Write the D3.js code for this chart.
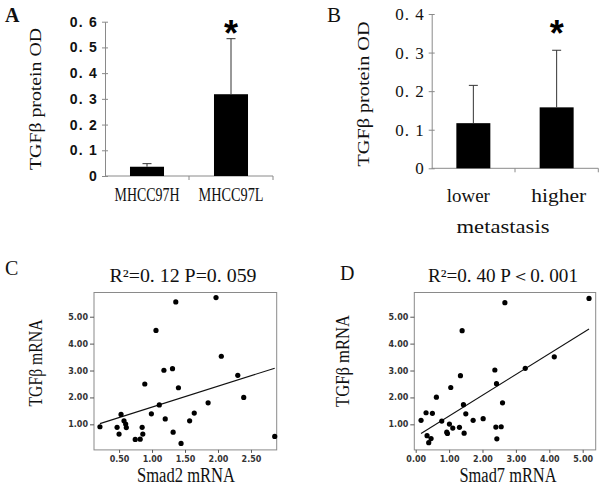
<!DOCTYPE html>
<html><head><meta charset="utf-8">
<script src="https://cdn.jsdelivr.net/npm/d3@7"></script>
<style>body{margin:0;background:#fff}svg{display:block}</style>
</head><body><svg id="c" width="600" height="493"></svg>
<script>
// ---------- data ----------
const catsA = ["MHCC97H", "MHCC97L"];
const meanA = [0.036, 0.318];
const errA = [0.012, 0.216];
const sigA = [false, true];
const ticksA = [0, 0.1, 0.2, 0.3, 0.4, 0.5, 0.6];
const tickLabelsA = ["0", "0. 1", "0. 2", "0. 3", "0. 4", "0. 5", "0. 6"];

const catsB = ["lower", "higher"];
const meanB = [0.117, 0.158];
const errB = [0.098, 0.148];
const sigB = [false, true];
const ticksB = [0, 0.1, 0.2, 0.3, 0.4];
const tickLabelsB = ["0", "0. 1", "0. 2", "0. 3", "0. 4"];

const smad2 = [0.21,0.47,0.50,0.53,0.575,0.60,0.61,0.745,0.82,0.85,0.86,0.89,0.99,1.06,1.11,1.18,1.20,1.31,1.32,1.36,1.40,1.44,1.57,1.64,1.85,1.97,2.05,2.30,2.39,2.86];
const tgfC  = [0.91,0.89,0.64,1.37,1.13,1.01,0.88,0.44,0.45,0.89,0.64,2.50,1.39,4.49,1.72,3.01,1.20,3.07,0.71,5.55,2.36,0.29,1.13,1.42,1.80,5.71,3.53,2.82,2.00,0.55];
const fitC = [0.864, 0.777]; // intercept, slope

const smad7 = [0.16,0.31,0.50,0.34,0.46,0.39,0.62,0.78,0.93,0.95,1.01,1.05,1.11,1.31,1.34,1.39,1.43,1.45,1.50,1.72,2.02,2.37,2.42,2.40,2.43,2.56,2.60,2.67,3.28,4.15,5.19];
const tgfD  = [1.15,1.43,1.41,0.58,0.47,0.32,2.01,1.12,0.71,0.66,1.01,2.37,0.86,0.89,2.81,4.48,1.73,0.67,1.39,1.15,1.21,3.02,2.51,0.90,0.46,0.91,1.80,5.52,3.08,3.51,5.68];
const fitD = [0.536, 0.772];

const yTicksS = [1, 2, 3, 4, 5];
const yTickLabelsS = ["1.00", "2.00", "3.00", "4.00", "5.00"];
const xTicksC = [0.5, 1, 1.5, 2, 2.5];
const xTickLabelsC = ["0.50", "1.00", "1.50", "2.00", "2.50"];
const xTicksD = [0, 1, 2, 3, 4, 5];
const xTickLabelsD = ["0.00", "1.00", "2.00", "3.00", "4.00", "5.00"];

const titleC = "R²=0. 12 P=0. 059";
const titleD = "R²=0. 40 P＜0. 001";

// ---------- drawing ----------
const svg = d3.select("#c");
const SERIF = "'Liberation Serif','DejaVu Serif',serif";
const SANS = "'Liberation Sans',Arial,sans-serif";
const AX = "#8a8a8a";

function txt(x, y, s, size, opts = {}) {
  const t = svg.append("text").attr("x", x).attr("y", y).text(s)
    .attr("font-family", opts.family || SERIF).attr("font-size", size)
    .attr("fill", opts.fill || "#111")
    .attr("text-anchor", opts.anchor || "middle");
  if (opts.weight) t.attr("font-weight", opts.weight);
  if (opts.len) t.attr("textLength", opts.len).attr("lengthAdjust", "spacingAndGlyphs");
  if (opts.rot) t.attr("transform", `rotate(-90,${x},${y})`).attr("dy", "0.35em");
  return t;
}

function barPanel(cfg) {
  const { cats, mean, err, sig, ticks, labels, x0, x1, yTop, yBot, pad } = cfg;
  const y = d3.scaleLinear().domain([0, ticks[ticks.length - 1]]).range([yBot, yTop]);
  const x = d3.scaleBand().domain(cats).range([x0, x1]).paddingInner(pad).paddingOuter(pad / 2);
  const g = svg.append("g");
  const ya = g.append("g").attr("transform", `translate(${x0},0)`)
    .call(d3.axisLeft(y).tickValues(ticks).tickFormat((d, i) => labels[i]).tickSizeInner(4).tickSizeOuter(0).tickPadding(cfg.tickPad));
  ya.select(".domain").attr("stroke", AX);
  ya.selectAll(".tick line").attr("stroke", AX).attr("x2", -3).attr("x1", 3);
  ya.selectAll(".tick text").attr("font-family", cfg.tickFamily).attr("font-size", cfg.tickSize)
    .attr("fill", "#111").attr("font-weight", cfg.tickWeight || "normal")
    .attr("letter-spacing", cfg.tickLS);
  g.append("line").attr("x1", x0).attr("x2", x1).attr("y1", yBot).attr("y2", yBot).attr("stroke", AX);
  const mid = (x(cats[0]) + x.bandwidth() + x(cats[1])) / 2;
  [mid, x1].forEach(b => g.append("line").attr("x1", b).attr("x2", b).attr("y1", yBot).attr("y2", yBot + 4).attr("stroke", AX));
  g.selectAll("rect.bar").data(cats).join("rect")
    .attr("x", d => x(d)).attr("width", x.bandwidth())
    .attr("y", (d, i) => y(mean[i])).attr("height", (d, i) => y(0) - y(mean[i]))
    .attr("fill", "#000");
  cats.forEach((c, i) => {
    const cx = x(c) + x.bandwidth() / 2;
    g.append("line").attr("x1", cx).attr("x2", cx).attr("y1", y(mean[i])).attr("y2", y(mean[i] + err[i])).attr("stroke", "#333");
    g.append("line").attr("x1", cx - 4.5).attr("x2", cx + 4.5).attr("y1", y(mean[i] + err[i])).attr("y2", y(mean[i] + err[i])).attr("stroke", "#333");
    if (sig[i]) {
      svg.append("text").attr("x", cx).attr("y", y(mean[i] + err[i]) - cfg.starOff).text("*")
        .attr("text-anchor", "middle").attr("font-family", SANS).attr("font-weight", "bold")
        .attr("font-size", 36).attr("fill", "#000");
    }
    txt(cx + (cfg.labShift ? cfg.labShift[i] : 0), cfg.labY, c, cfg.labSize, { len: cfg.labLen[i] });
  });
  return { x, y };
}

// Panel A
barPanel({ cats: catsA, mean: meanA, err: errA, sig: sigA, ticks: ticksA, labels: tickLabelsA,
  x0: 105, x1: 273, yTop: 21.7, yBot: 176, pad: 0.595, tickPad: 3,
  tickFamily: SANS, tickSize: 14, tickWeight: "bold", tickLS: "1.2px",
  starOff: -7, labY: 201, labSize: 18, labLen: [65, 65] });
txt(35, 99, "TGFβ protein OD", 17, { rot: true, len: 142 });
txt(5, 22, "A", 20, { anchor: "start", weight: "bold" });

// Panel B
barPanel({ cats: catsB, mean: meanB, err: errB, sig: sigB, ticks: ticksB, labels: tickLabelsB,
  x0: 431.7, x1: 598.3, yTop: 14, yBot: 168.3, pad: 0.592, tickPad: 3,
  tickFamily: SERIF, tickSize: 17, tickLS: "1px",
  starOff: 4, labY: 202, labSize: 19, labLen: [43, 55], labShift: [-5, 2] });
txt(503, 233, "metastasis", 19, { len: 93 });
txt(363.5, 94, "TGFβ protein OD", 17, { rot: true, len: 145 });
txt(327, 22, "B", 21, { anchor: "start" });

// Scatter panels
function scatter(cfg) {
  const { xs, ys, fit, xDom, xR, xTicks, xLabels } = cfg;
  const x = d3.scaleLinear().domain(xDom).range(xR);
  const y = d3.scaleLinear().domain([0.05, 5.9]).range([449.9, 292.5]);
  const g = svg.append("g");
  g.append("rect").attr("x", xR[0]).attr("y", 292.5).attr("width", xR[1] - xR[0]).attr("height", 449.9 - 292.5)
    .attr("fill", "none").attr("stroke", AX);
  const ya = g.append("g").attr("transform", `translate(${xR[0]},0)`)
    .call(d3.axisLeft(y).tickValues(yTicksS).tickFormat((d, i) => yTickLabelsS[i]).tickSizeInner(4).tickSizeOuter(0).tickPadding(2));
  ya.select(".domain").remove();
  ya.selectAll(".tick line").attr("stroke", "#555");
  ya.selectAll(".tick text").attr("font-family", "'DejaVu Sans',Verdana,sans-serif").attr("font-size", 8).attr("fill", "#333").attr("font-weight", "bold");
  const xa = g.append("g").attr("transform", `translate(0,449.9)`)
    .call(d3.axisBottom(x).tickValues(xTicks).tickFormat((d, i) => xLabels[i]).tickSizeInner(3).tickSizeOuter(0).tickPadding(3.5));
  xa.select(".domain").remove();
  xa.selectAll(".tick line").attr("stroke", "#555");
  xa.selectAll(".tick text").attr("font-family", "'DejaVu Sans',Verdana,sans-serif").attr("font-size", 8).attr("fill", "#333").attr("font-weight", "bold");
  const xmin = d3.min(xs), xmax = d3.max(xs);
  g.append("line").attr("x1", x(xmin)).attr("x2", x(xmax))
    .attr("y1", y(fit[0] + fit[1] * xmin)).attr("y2", y(fit[0] + fit[1] * xmax))
    .attr("stroke", "#111").attr("stroke-width", 1.1);
  g.selectAll("circle").data(xs).join("circle")
    .attr("cx", d => x(d)).attr("cy", (d, i) => y(ys[i])).attr("r", 2.6).attr("fill", "#000");
}

scatter({ xs: smad2, ys: tgfC, fit: fitC, xDom: [0.12, 2.89], xR: [94, 276.7], xTicks: xTicksC, xLabels: xTickLabelsC });
scatter({ xs: smad7, ys: tgfD, fit: fitD, xDom: [-0.042, 5.39], xR: [414.3, 595.7], xTicks: xTicksD, xLabels: xTickLabelsD });

txt(183, 281.5, titleC, 18, { len: 147 });
txt(503, 281.5, titleD, 18, { len: 150 });
txt(186, 482, "Smad2 mRNA", 20, { len: 98 });
txt(508, 482, "Smad7 mRNA", 20, { len: 97 });
txt(35, 363, "TGFβ mRNA", 19, { rot: true, len: 87 });
txt(342, 361, "TGFβ mRNA", 19, { rot: true, len: 92 });
txt(5, 275, "C", 20, { anchor: "start" });
txt(340, 280, "D", 20, { anchor: "start" });
</script></body></html>
